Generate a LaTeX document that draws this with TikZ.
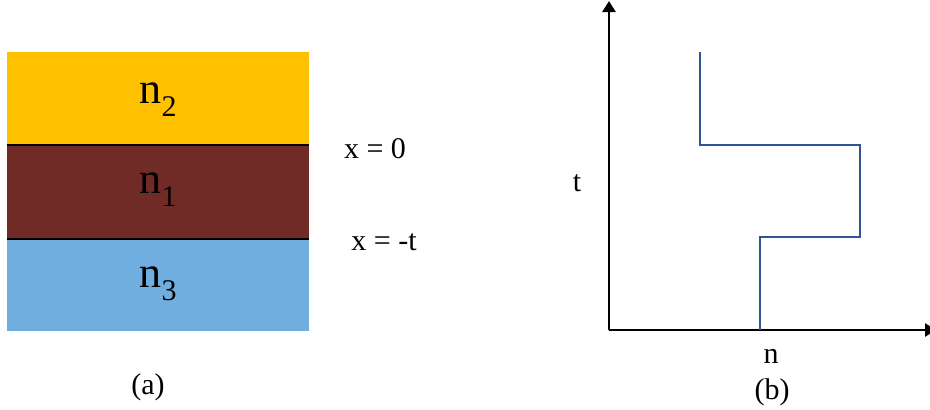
\documentclass[tikz,border=0pt]{standalone}
\usepackage{fontspec}
\setmainfont{Liberation Serif}
\usetikzlibrary{arrows.meta}
\definecolor{ylw}{HTML}{FFC000}
\definecolor{brn}{HTML}{702B27}
\definecolor{blu}{HTML}{70AEE0}
\definecolor{stepc}{HTML}{2F5597}
\tikzset{
  big/.style={font=\fontsize{44}{48}\selectfont, inner sep=0pt},
  lbl/.style={font=\fontsize{30}{34}\selectfont, inner sep=0pt},
  axis/.style={line width=2.6pt, -{Triangle[length=11pt,width=13pt]}},
  boundary/.style={line width=1.6pt, black},
  profile/.style={line width=1.4pt, stepc}
}
\newcommand{\nsub}[1]{n\raisebox{-0.3em}{\fontsize{30}{32}\selectfont #1}}
\begin{document}
\begin{tikzpicture}[x=1pt,y=-1pt]
\useasboundingbox (0,0) rectangle (930,410);
\clip (0,0) rectangle (930,410);
% layers
\fill[ylw] (7,52) rectangle (309,145);
\fill[brn] (7,145) rectangle (309,239);
\fill[blu] (7,239) rectangle (309,331);
\coordinate (b1l) at (7,145); \coordinate (b1r) at (309,145);
\coordinate (b2l) at (7,239); \coordinate (b2r) at (309,239);
\draw[boundary] (b1l) -- (b1r);
\draw[boundary] (b2l) -- (b2r);
\node[big] (n2) at (158,100) {\nsub{2}};
\node[big] (n1) at (158,190) {\nsub{1}};
\node[big] (n3) at (158,284) {\nsub{3}};
\node[lbl] (x0) at (375,149) {x = 0};
\node[lbl] (xt) at (384,242) {x = -t};
\node[lbl] (a) at (148,387) {(a)};
% axes
\coordinate (O) at (609,330);
\coordinate (ytop) at (609,1);
\coordinate (xend) at (936,330);
\draw[axis] (O) -- (ytop);
\draw[axis] (O) -- (xend);
\node[lbl] (t) at (577,183) {t};
\node[lbl] (n) at (771,356) {n};
\node[lbl] (b) at (772,392) {(b)};
% profile
\coordinate (p0) at (700,52);
\coordinate (p1) at (700,145);
\coordinate (p2) at (860,145);
\coordinate (p3) at (860,237);
\coordinate (p4) at (760,237);
\coordinate (p5) at (760,330);
\draw[profile] (p0) -- (p1) -- (p2) -- (p3) -- (p4) -- (p5);
\end{tikzpicture}
\end{document}
